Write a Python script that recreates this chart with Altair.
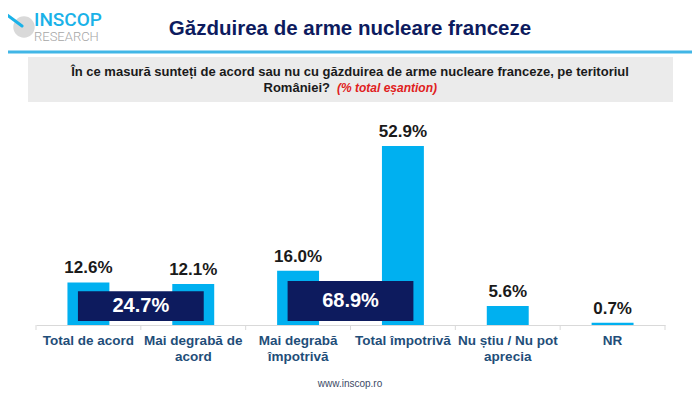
import altair as alt
import pandas as pd

# ---- data ----
categories = ["Total de acord", "Mai degrabă de acord", "Mai degrabă împotrivă",
              "Total împotrivă", "Nu știu / Nu pot aprecia", "NR"]
values = [12.6, 12.1, 16.0, 52.9, 5.6, 0.7]
label_lines = [["Total de acord"], ["Mai degrabă de", "acord"], ["Mai degrabă", "împotrivă"],
               ["Total împotrivă"], ["Nu știu / Nu pot", "aprecia"], ["NR"]]
group_totals = ["24.7%", "68.9%"]
group_start = [0, 2]
group_end = [1, 3]

title_text = "Găzduirea de arme nucleare franceze"
question_line1 = "În ce masură sunteți de acord sau nu cu găzduirea de arme nucleare franceze, pe teritoriul"
question_line2 = "României?"
question_note = "(% total eșantion)"
footer_text = "www.inscop.ro"

# ---- style ----
W, H = 629, 205
FONT = "Liberation Sans"
BAR = "#00b0f0"
NAVY = "#0d1b5e"
LABEL = "#1f4e79"
box_bottom = 1.2
box_top = [10.0, 13.0]
pad_units = 0.1

df = pd.DataFrame({"cat": categories, "val": values})
df["lbl"] = [f"{v:.1f}%" for v in values]

groups = pd.DataFrame({"start": group_start, "end": group_end, "txt": group_totals, "top": box_top})
bounds = pd.DataFrame({"b": [i - 0.5 for i in range(len(categories) + 1)]})

yscale = alt.Scale(domain=[0, 60.6])
xband = alt.Scale(paddingInner=0.6, paddingOuter=0.3)
xlin = alt.Scale(domain=[-0.5, len(categories) - 0.5], nice=False, zero=False)

expr_parts = []
for c, lines in zip(categories, label_lines):
    arr = "[" + ",".join("'" + l + "'" for l in lines) + "]"
    expr_parts.append(f"datum.label == '{c}' ? {arr} : ")
label_expr = "".join(expr_parts) + "datum.label"

xenc = alt.X("cat:N", sort=categories, scale=xband,
             axis=alt.Axis(title=None, labelAngle=0, labelExpr=label_expr, labelFont=FONT,
                           labelFontSize=13.5, labelFontWeight="bold", labelColor=LABEL,
                           labelLineHeight=16, labelPadding=8, ticks=False,
                           domainColor="#d9d9d9", domainWidth=1, labelBaseline="top"))

bars = alt.Chart(df).mark_bar(color=BAR).encode(
    x=xenc, y=alt.Y("val:Q", scale=yscale, axis=None))
vals = alt.Chart(df).mark_text(font=FONT, fontSize=17, fontWeight="bold", color="#1a1a1a",
                               baseline="bottom", dy=-5).encode(
    x=alt.X("cat:N", sort=categories, scale=xband, axis=None),
    y=alt.Y("val:Q", scale=yscale), text="lbl:N")

boxes = alt.Chart(groups).transform_calculate(
    x0=f"datum.start - {pad_units}", x1=f"datum.end + {pad_units}",
    yb=f"{box_bottom}"
).mark_rect(color=NAVY).encode(
    x=alt.X("x0:Q", scale=xlin, axis=None), x2="x1:Q",
    y=alt.Y("yb:Q", scale=yscale), y2="top:Q")
box_txt = alt.Chart(groups).transform_calculate(
    xm="(datum.start + datum.end) / 2", ym=f"({box_bottom} + datum.top) / 2"
).mark_text(font=FONT, fontSize=20, fontWeight="bold", color="white", baseline="middle").encode(
    x=alt.X("xm:Q", scale=xlin, axis=None), y=alt.Y("ym:Q", scale=yscale), text="txt:N")
ticks = alt.Chart(bounds).mark_rule(color="#d9d9d9").encode(
    x=alt.X("b:Q", scale=xlin, axis=None), y=alt.value(H), y2=alt.value(H + 5))

one = pd.DataFrame({"a": [0]})

def txt(text, x, y, **kw):
    return alt.Chart(one).mark_text(text=text, **kw).encode(x=alt.value(x), y=alt.value(y))

header_line = alt.Chart(one).mark_rule(color="#41b6e6", strokeWidth=3).encode(
    x=alt.value(-36), x2=alt.value(664), y=alt.value(-68))
qbox = alt.Chart(one).mark_rect(color="#ebebeb").encode(
    x=alt.value(-8), x2=alt.value(637), y=alt.value(-63), y2=alt.value(-18))
logo_circle = alt.Chart(one).mark_point(shape="circle", filled=True, color="#d9d9d9",
                                        size=460, opacity=1).encode(
    x=alt.value(-12), y=alt.value(-93))
logo_needle = alt.Chart(one).mark_rule(color="#1ab2e8", strokeWidth=3, strokeCap="round").encode(
    x=alt.value(-29), x2=alt.value(-14), y=alt.value(-105), y2=alt.value(-94))

title = txt(title_text, 314, -91, font=FONT, fontSize=20.5, fontWeight="bold", color=NAVY,
            align="center", baseline="middle")
inscop = txt("INSCOP", -2, -100, font="Roboto", fontSize=19, fontWeight=500, color="#1ab2e8",
             align="left", baseline="middle")
research = txt("RESEARCH", -2, -83, font="Roboto", fontSize=13, fontWeight=300, color="#a6a6a6",
               align="left", baseline="middle")
q1 = txt(question_line1, 314, -48, font=FONT, fontSize=13, fontWeight="bold", color="#1a1a1a",
         align="center", baseline="middle")
q2 = txt(question_line2, 294, -32, font=FONT, fontSize=13, fontWeight="bold", color="#1a1a1a",
         align="right", baseline="middle")
q3 = txt(question_note, 301, -32, font=FONT, fontSize=12, fontWeight="bold", fontStyle="italic",
         color="#e02020", align="left", baseline="middle")
footer = txt(footer_text, 314, 264, font=FONT, fontSize=10, color="#3b4a66",
             align="center", baseline="middle")

chart = alt.layer(
    header_line, qbox, logo_circle, logo_needle, title, inscop, research, q1, q2, q3, footer,
    bars, vals, ticks, boxes, box_txt
).resolve_scale(x="independent").properties(
    width=W, height=H, autosize="none",
    padding={"left": 28, "right": 27, "top": 112, "bottom": 66},
).configure(background="white").configure_view(strokeWidth=0, stroke="transparent")

chart.save("out.html", embed_options={"renderer": "svg", "actions": False})
